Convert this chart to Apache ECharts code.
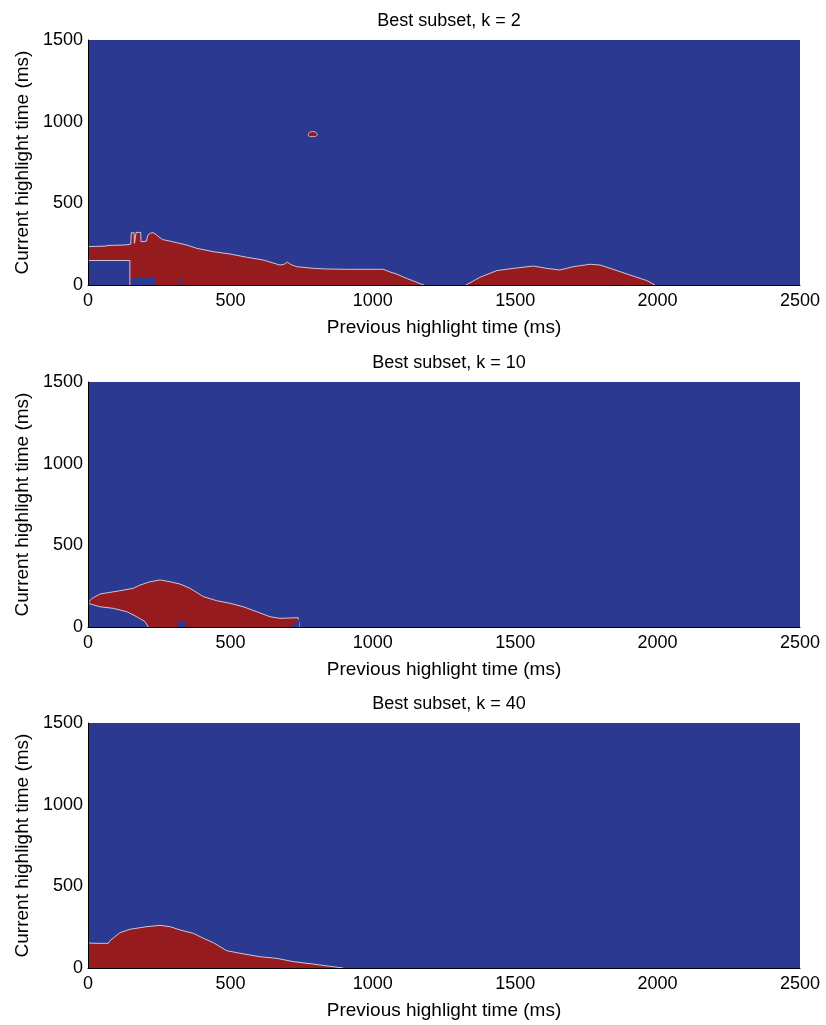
<!DOCTYPE html>
<html>
<head>
<meta charset="utf-8">
<script src="https://cdn.jsdelivr.net/npm/echarts@6/dist/echarts.min.js"></script>
<style>html,body{margin:0;padding:0;background:#fff;}#c{width:826px;height:1025px;}</style>
</head>
<body>
<div id="c"></div>
<script>
// ---- data (ms) ----
const titles = ['Best subset, k = 2', 'Best subset, k = 10', 'Best subset, k = 40'];
const xTicks = [0, 500, 1000, 1500, 2000, 2500];
const yTicks = [0, 500, 1000, 1500];

// Panel 1 (k = 2): upper edge of red region, [previous, current]
const p1Main = [[0,235],[60,238],[70,242],[130,245],[150,250],[152,320],[162,320],[163,255],[168,255],[169,322],[185,322],[186,265],[205,268],[210,305],[220,318],[230,320],[245,300],[262,278],[290,268],[311,259],[346,245],[381,225],[440,204],[498,190],[557,170],[615,153],[674,122],[690,128],[700,141],[712,125],[733,112],[791,102],[838,98],[908,96],[1037,96],[1060,80],[1084,67],[1119,40],[1142,25],[1166,8],[1180,0]];
const p1Hump = [[1327,0],[1376,47],[1435,88],[1494,102],[1564,116],[1610,102],[1657,92],[1704,112],[1763,127],[1798,122],[1844,96],[1903,61],[1962,27],[1991,0]];
const p1HoleA = [[0,150],[147,150],[147,0]];
const p1HoleB = [[150,0],[150,45],[236,45],[236,0]];
const p1HoleC = [[322,0],[322,40],[330,40],[330,0]];
const p1BlobX = [773, 778, 790, 800, 806];
const p1BlobLow = [915, 909, 908, 910, 918];
const p1BlobHigh = [925, 937, 940, 936, 920];

// Panel 2 (k = 10)
const p2Main = [[0,149],[15,175],[42,202],[112,222],[159,237],[183,257],[218,277],[253,288],[288,277],[323,263],[358,237],[405,186],[452,161],[499,145],[545,124],[592,94],[639,63],[674,53],[738,57],[742,0]];
const p2HoleA = [[0,145],[42,124],[89,114],[136,94],[171,63],[200,33],[212,0]];
const p2HoleB = [[314,0],[314,32],[342,32],[342,0]];
const p2HoleC = [[715,0],[740,50],[742,0]];

// Panel 3 (k = 40)
const p3Main = [[0,153],[30,151],[71,151],[77,167],[112,216],[147,237],[206,253],[253,261],[288,253],[323,233],[370,212],[405,182],[440,155],[487,106],[534,90],[604,69],[663,59],[721,39],[791,24],[861,8],[896,0]];

// ---- styling ----
const BLUE = '#2b3990';
const RED = '#951b1e';
const EDGE = 'rgba(225,225,240,0.85)';
const FONT = 'Liberation Sans, Arial, sans-serif';
const tops = [40, 382, 723];

function area(i, data, color, z, edge) {
  return {
    type: 'line', xAxisIndex: i, yAxisIndex: i, data: data,
    symbol: 'none', smooth: false, animation: false, z: z,
    lineStyle: { color: edge ? EDGE : color, width: edge ? 1 : 0 },
    areaStyle: { color: color, opacity: 1 }, silent: true
  };
}

const grids = [], xAxes = [], yAxes = [], titleList = [];
for (let i = 0; i < 3; i++) {
  grids.push({ left: 88, top: tops[i], width: 712, height: 245, show: true, backgroundColor: BLUE, borderWidth: 0 });
  xAxes.push({
    type: 'value', gridIndex: i, min: xTicks[0], max: xTicks[xTicks.length - 1], interval: 500,
    name: 'Previous highlight time (ms)', nameLocation: 'middle', nameGap: 33,
    nameTextStyle: { fontSize: 19, color: '#000', fontFamily: FONT },
    axisLine: { show: true, onZero: false, lineStyle: { color: '#000', width: 1 } },
    axisTick: { show: false }, splitLine: { show: false },
    axisLabel: { fontSize: 18, color: '#000', fontFamily: FONT, margin: 7, formatter: v => String(v) }, z: 10
  });
  yAxes.push({
    type: 'value', gridIndex: i, min: yTicks[0], max: yTicks[yTicks.length - 1], interval: 500,
    name: 'Current highlight time (ms)', nameLocation: 'middle', nameGap: 49,
    nameTextStyle: { fontSize: 19, color: '#000', fontFamily: FONT },
    axisLine: { show: true, onZero: false, lineStyle: { color: '#000', width: 1 } },
    axisTick: { show: false }, splitLine: { show: false },
    axisLabel: { fontSize: 18, color: '#000', fontFamily: FONT, margin: 5, formatter: v => String(v) }, z: 10
  });
  titleList.push({
    text: titles[i], left: 444, top: tops[i] - 33, textAlign: 'center',
    textStyle: { fontSize: 18, fontWeight: 'normal', color: '#000', fontFamily: FONT }
  });
}

const series = [
  area(0, p1Main, RED, 3, true),
  area(0, p1Hump, RED, 3, true),
  area(0, p1HoleA, BLUE, 4, true),
  area(0, p1HoleB, BLUE, 4, false),
  area(0, p1HoleC, BLUE, 4, false),
  {
    // isolated blob, drawn as a polygon through the axis scales
    type: 'custom', xAxisIndex: 0, yAxisIndex: 0, data: [[p1BlobX[0], p1BlobLow[0]]],
    animation: false, silent: true, z: 3,
    renderItem: function (params, api) {
      const pts = [];
      for (let j = 0; j < p1BlobX.length; j++) pts.push(api.coord([p1BlobX[j], p1BlobHigh[j]]));
      for (let j = p1BlobX.length - 1; j >= 0; j--) pts.push(api.coord([p1BlobX[j], p1BlobLow[j]]));
      return { type: 'polygon', shape: { points: pts }, style: { fill: RED, stroke: EDGE, lineWidth: 0.8 } };
    }
  },
  area(1, p2Main, RED, 3, true),
  area(1, p2HoleA, BLUE, 4, true),
  area(1, p2HoleB, BLUE, 4, false),
  area(1, p2HoleC, BLUE, 4, false),
  area(2, p3Main, RED, 3, true)
];

const chart = echarts.init(document.getElementById('c'), null, { renderer: 'canvas' });
chart.setOption({
  animation: false, backgroundColor: '#fff',
  title: titleList, grid: grids, xAxis: xAxes, yAxis: yAxes, series: series
});
</script>
</body>
</html>
